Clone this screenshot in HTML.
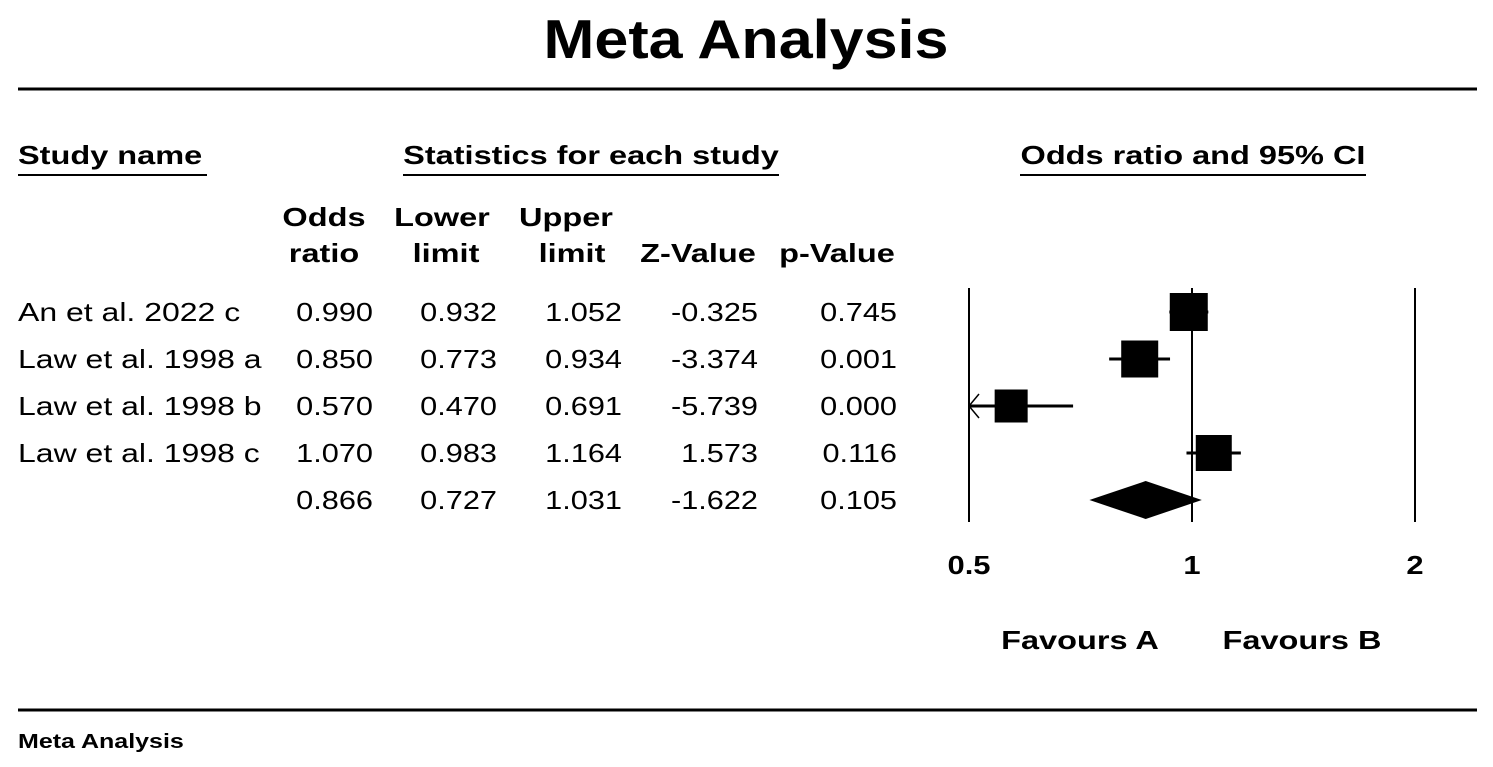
<!DOCTYPE html>
<html><head><meta charset="utf-8"><style>
body{margin:0;background:#fff;width:1493px;height:762px;overflow:hidden;font-family:"Liberation Sans",Arial,sans-serif}
svg text{font-family:"Liberation Sans",Arial,sans-serif}
</style></head><body>
<svg id="c" width="1493" height="762">
<text x="746" y="58" font-size="55" font-weight="bold" text-anchor="middle" data-s="1.11">Meta Analysis</text>
<line x1="18" y1="89" x2="1477" y2="89" stroke="#000" stroke-width="3"/>
<text x="18" y="164" font-size="26" font-weight="bold">Study name</text>
<line x1="18" y1="175" x2="207" y2="175" stroke="#000" stroke-width="2"/>
<text x="591" y="164" font-size="26" font-weight="bold" text-anchor="middle">Statistics for each study</text>
<line x1="403" y1="175" x2="779" y2="175" stroke="#000" stroke-width="2"/>
<text x="1193" y="164" font-size="26" font-weight="bold" text-anchor="middle">Odds ratio and 95% CI</text>
<line x1="1020" y1="175" x2="1366" y2="175" stroke="#000" stroke-width="2"/>
<g font-size="26" font-weight="bold" text-anchor="middle">
<text x="324" y="226">Odds</text><text x="324" y="262">ratio</text>
<text x="442" y="226">Lower</text><text x="446" y="262">limit</text>
<text x="566" y="226">Upper</text><text x="572" y="262">limit</text>
<text x="698" y="262">Z-Value</text><text x="837" y="262">p-Value</text>
</g>
<g id="rows"></g>
<g id="plot"></g>
<text x="1080" y="649" font-size="26" font-weight="bold" text-anchor="middle">Favours A</text>
<text x="1302" y="649" font-size="26" font-weight="bold" text-anchor="middle">Favours B</text>
<line x1="18" y1="710" x2="1477" y2="710" stroke="#000" stroke-width="3"/>
<text x="18" y="748" font-size="20" font-weight="bold">Meta Analysis</text>
</svg>
<script>
const studies=["An et al. 2022 c","Law et al. 1998 a","Law et al. 1998 b","Law et al. 1998 c",""];
const oddsRatio=[0.990,0.850,0.570,1.070,0.866];
const lower=[0.932,0.773,0.470,0.983,0.727];
const upper=[1.052,0.934,0.691,1.164,1.031];
const zValue=["-0.325","-3.374","-5.739","1.573","-1.622"];
const pValue=["0.745","0.001","0.000","0.116","0.105"];
const weights=[38,37,33,36];
const ticks=[0.5,1,2];
const NS="http://www.w3.org/2000/svg";
const X0=970,X1=1192,X2=1415;
function xs(v){return X1+Math.log2(v)*(X2-X1);}
function ys(i){return 312+i*47;}
function mk(tag,attrs,parent){const e=document.createElementNS(NS,tag);for(const k in attrs)e.setAttribute(k,attrs[k]);parent.appendChild(e);return e;}
const rows=document.getElementById('rows'),plot=document.getElementById('plot');
studies.forEach((s,i)=>{
 const y=ys(i)+9;
 const g=mk('g',{},rows);
 
 
 const cols=[[s,18,'start','1.23'],[oddsRatio[i].toFixed(3),373,'end','1.18'],[lower[i].toFixed(3),497,'end','1.18'],[upper[i].toFixed(3),622,'end','1.18'],[zValue[i],758,'end','1.18'],[pValue[i],897,'end','1.18']];
 cols.forEach(c=>{if(!c[0])return;const t=mk('text',{x:c[1],y:y,'font-size':26,'text-anchor':c[2],'data-s':c[3]},g);t.textContent=c[0];});
});
ticks.forEach(t=>{
 const l=mk('line',{x1:xs(t),x2:xs(t),y1:288,y2:522,stroke:'#000','stroke-width':2},plot);
 
 
 const tx=mk('text',{x:xs(t),y:574,'font-size':26,'font-weight':'bold','text-anchor':'middle','data-s':'1.19'},plot);
 
 
 tx.textContent=t;
});
const xmin=ticks[0];
for(let i=0;i<4;i++){
 const y=ys(i);
 const lo=Math.max(lower[i],xmin);
 const ci=mk('line',{x1:xs(lo),x2:xs(upper[i]),y1:y,y2:y,stroke:'#000','stroke-width':3},plot);
 
 
 if(lower[i]<xmin){
  const a=mk('path',{d:`M${xs(xmin)+10},${y-12} L${xs(xmin)},${y} L${xs(xmin)+10},${y+12}`,fill:'none',stroke:'#000','stroke-width':1.5},plot);
  
  
 }
 const w=weights[i];
 const r=mk('rect',{x:xs(oddsRatio[i])-w/2,y:y-w/2,width:w,height:w,fill:'#000'},plot);
 
 
}
const yd=ys(4);
const d=mk('polygon',{points:`${xs(lower[4])},${yd} ${xs(oddsRatio[4])},${yd-19} ${xs(upper[4])},${yd} ${xs(oddsRatio[4])},${yd+19}`,fill:'#000'},plot);


document.querySelectorAll('svg text').forEach(t=>{
 const s=parseFloat(t.getAttribute('data-s')||'1.25');
 const w=t.getComputedTextLength();
 if(w>0){t.setAttribute('textLength',(w*s).toFixed(1));t.setAttribute('lengthAdjust','spacingAndGlyphs');}
});
</script>
</body></html>
